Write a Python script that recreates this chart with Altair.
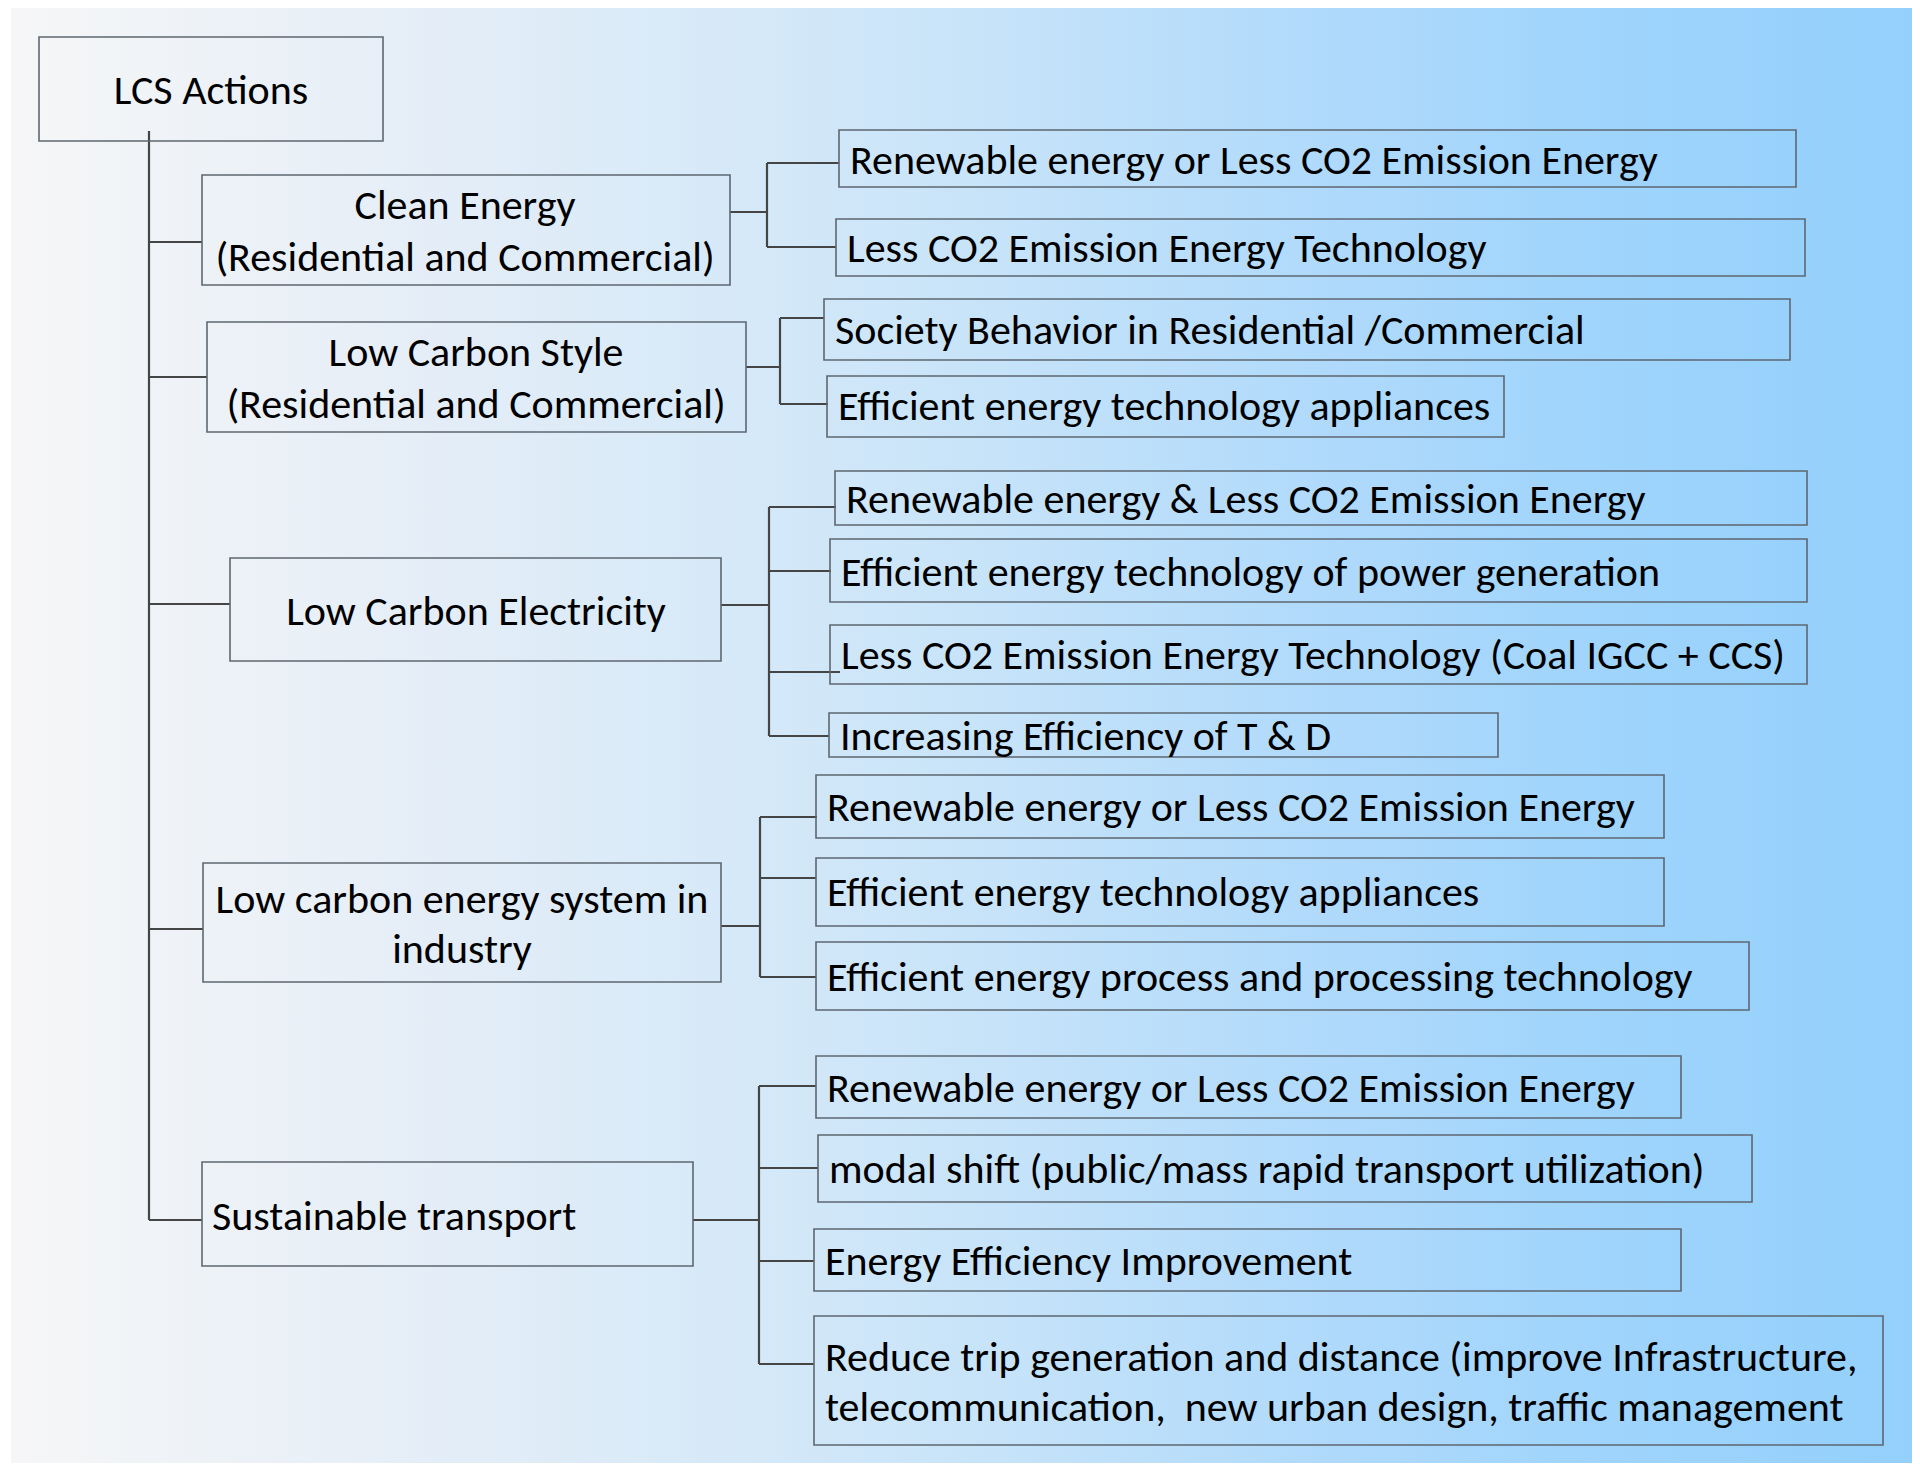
import altair as alt
import pandas as pd

FONT = "Carlito, Calibri, 'Liberation Sans Narrow', 'Arial Narrow', Lato, sans-serif"

# ---------------- content ----------------
root_label = ["LCS Actions"]
root_box = [39, 383, 37, 141]          # x0, x1, y0, y1
root_text_xy = [211, 89]

cat_lines = [
    ["Clean Energy", "(Residential and Commercial)"],
    ["Low Carbon Style", "(Residential and Commercial)"],
    ["Low Carbon Electricity"],
    ["Low carbon energy system in", "industry"],
    ["Sustainable transport"],
]
cat_x0 = [202, 207, 230, 203, 202]
cat_x1 = [730, 746, 721, 721, 693]
cat_y0 = [175, 322, 558, 863, 1162]
cat_y1 = [285, 432, 661, 982, 1266]
cat_text_x = [465, 476, 476, 462, 212]
cat_text_align = ["center", "center", "center", "center", "left"]
cat_text_y = [[204, 256], [351, 403], [610], [898, 948], [1215]]
cat_branch_y = [242, 377, 604, 929, 1220]      # where trunk meets each category

trunk_x = 149
trunk_top = 131

# sub-actions, grouped by category
sub_lines = [
    [["Renewable energy or Less CO2 Emission Energy"],
     ["Less CO2 Emission Energy Technology"]],
    [["Society Behavior in Residential /Commercial"],
     ["Efficient energy technology appliances"]],
    [["Renewable energy & Less CO2 Emission Energy"],
     ["Efficient energy technology of power generation"],
     ["Less CO2 Emission Energy Technology (Coal IGCC + CCS)"],
     ["Increasing Efficiency of T & D"]],
    [["Renewable energy or Less CO2 Emission Energy"],
     ["Efficient energy technology appliances"],
     ["Efficient energy process and processing technology"]],
    [["Renewable energy or Less CO2 Emission Energy"],
     ["modal shift (public/mass rapid transport utilization)"],
     ["Energy Efficiency Improvement"],
     ["Reduce trip generation and distance (improve Infrastructure,",
      "telecommunication,\u00a0 new urban design, traffic management"]],
]
sub_x0 = [[839, 836], [824, 827], [835, 830, 830, 829], [816, 816, 816], [816, 818, 814, 814]]
sub_x1 = [[1796, 1805], [1790, 1504], [1807, 1807, 1807, 1498], [1664, 1664, 1749], [1681, 1752, 1681, 1883]]
sub_y0 = [[130, 219], [299, 376], [471, 539, 625, 713], [775, 858, 942], [1056, 1135, 1229, 1316]]
sub_y1 = [[187, 276], [360, 437], [525, 602, 684, 757], [838, 926, 1010], [1118, 1202, 1291, 1445]]
sub_text_y = [[[159], [247]], [[329], [405]], [[498], [571], [654], [735]],
              [[806], [891], [976]], [[1087], [1168], [1260], [1356, 1406]]]
sub_text_pad = 11

# connectors from each category to its sub-actions
grp_stub_y = [212, 367, 605, 926, 1220]
grp_spine_x = [767, 780, 769, 760, 759]
grp_leaf_y = [[163, 247], [318, 404], [507, 571, 672, 736], [817, 878, 977], [1086, 1168, 1261, 1364]]
grp_leaf_x2 = [[839, 836], [824, 828], [836, 831, 840, 829], [817, 816, 816], [816, 818, 814, 814]]

# background panel
bg = [11, 1912, 4, 1469]

# ---------------- tables ----------------
boxes = [dict(x0=root_box[0], x1=root_box[1], y0=root_box[2], y1=root_box[3])]
texts = [dict(t=root_label[0], x=root_text_xy[0], y=root_text_xy[1], a="center")]
rules = [dict(x=trunk_x, x2=trunk_x, y=trunk_top, y2=cat_branch_y[-1])]

for i in range(len(cat_lines)):
    boxes.append(dict(x0=cat_x0[i], x1=cat_x1[i], y0=cat_y0[i], y1=cat_y1[i]))
    for ln, yy in zip(cat_lines[i], cat_text_y[i]):
        texts.append(dict(t=ln, x=cat_text_x[i], y=yy, a=cat_text_align[i]))
    rules.append(dict(x=trunk_x, x2=cat_x0[i], y=cat_branch_y[i], y2=cat_branch_y[i]))
    # stub from category to spine
    rules.append(dict(x=cat_x1[i], x2=grp_spine_x[i], y=grp_stub_y[i], y2=grp_stub_y[i]))
    # spine
    rules.append(dict(x=grp_spine_x[i], x2=grp_spine_x[i], y=grp_leaf_y[i][0], y2=grp_leaf_y[i][-1]))
    for j in range(len(sub_lines[i])):
        boxes.append(dict(x0=sub_x0[i][j], x1=sub_x1[i][j], y0=sub_y0[i][j], y1=sub_y1[i][j]))
        for ln, yy in zip(sub_lines[i][j], sub_text_y[i][j]):
            texts.append(dict(t=ln, x=sub_x0[i][j] + sub_text_pad, y=yy, a="left"))
        rules.append(dict(x=grp_spine_x[i], x2=grp_leaf_x2[i][j], y=grp_leaf_y[i][j], y2=grp_leaf_y[i][j]))

boxes_df = pd.DataFrame(boxes)
texts_df = pd.DataFrame(texts)
rules_df = pd.DataFrame(rules)
bg_df = pd.DataFrame([dict(x0=bg[0], x1=bg[1], y0=bg[2], y1=bg[3])])

W, H = 1904, 1455
xs = alt.Scale(domain=[8, 8 + W], nice=False, zero=False)
ys = alt.Scale(domain=[8, 8 + H], nice=False, zero=False, reverse=True)

def X(f):
    return alt.X(f, type="quantitative", scale=xs, axis=None)

def Y(f):
    return alt.Y(f, type="quantitative", scale=ys, axis=None)

grad = alt.Gradient(
    gradient="linear", x1=0, x2=1, y1=0, y2=0,
    stops=[
        alt.GradientStop(color="#f6f6f7", offset=0.0),
        alt.GradientStop(color="#f1f4f7", offset=0.06),
        alt.GradientStop(color="#e6eef7", offset=0.2),
        alt.GradientStop(color="#d6e9f8", offset=0.38),
        alt.GradientStop(color="#c6e3f9", offset=0.52),
        alt.GradientStop(color="#b1dafb", offset=0.68),
        alt.GradientStop(color="#9fd4fc", offset=0.84),
        alt.GradientStop(color="#93d0fb", offset=1.0),
    ],
)

bg_layer = alt.Chart(bg_df).mark_rect(color=grad).encode(
    x=X("x0"), x2="x1", y=Y("y0"), y2="y1"
)

box_layer = alt.Chart(boxes_df).mark_rect(
    fill="transparent", stroke="#5e6770", strokeWidth=1.6
).encode(x=X("x0"), x2="x1", y=Y("y0"), y2="y1")

rule_layer = alt.Chart(rules_df).mark_rule(
    color="#454545", strokeWidth=2.2
).encode(x=X("x"), x2="x2", y=Y("y"), y2="y2")

text_left = alt.Chart(texts_df[texts_df.a == "left"]).mark_text(
    align="left", baseline="middle", font=FONT, fontSize=42, color="#000000", dy=2
).encode(x=X("x"), y=Y("y"), text="t:N")

text_center = alt.Chart(texts_df[texts_df.a == "center"]).mark_text(
    align="center", baseline="middle", font=FONT, fontSize=42, color="#000000", dy=2
).encode(x=X("x"), y=Y("y"), text="t:N")

chart = alt.layer(bg_layer, rule_layer, box_layer, text_left, text_center).properties(
    width=W, height=H, padding=0, autosize="none", background="#ffffff"
).configure_view(stroke=None)

chart.save("out.html", embed_options={"renderer": "svg", "actions": False})
